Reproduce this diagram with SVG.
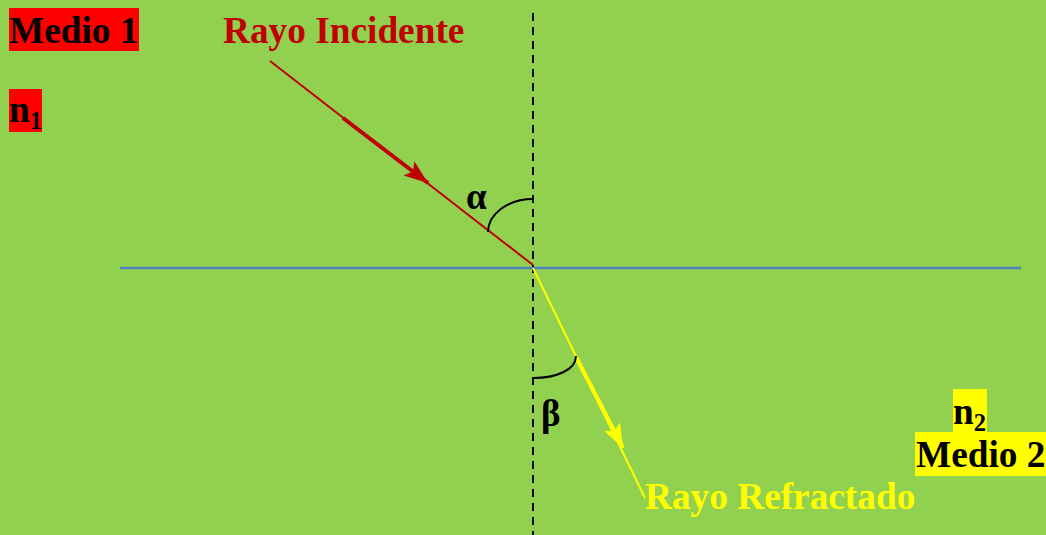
<svg xmlns="http://www.w3.org/2000/svg" width="1046" height="535" viewBox="0 0 1046 535">
<defs>
<style>
.lbl{font-family:"Liberation Serif","Times New Roman",serif;font-weight:bold;font-size:37.3px}
.sub{font-family:"Liberation Serif","Times New Roman",serif;font-weight:bold;font-size:24.5px}
.ang{font-family:"Liberation Serif","Times New Roman",serif;font-weight:bold;font-size:37px;fill:#000}
.arc{fill:none;stroke:#000;stroke-width:2}
</style>
<marker id="ahRed" markerUnits="userSpaceOnUse" markerWidth="26" markerHeight="20" viewBox="0 0 26 20" refX="24" refY="10" orient="auto">
<path d="M0,1 L24,10 L0,19 L5,10 Z" fill="#C00000"/>
</marker>
<marker id="ahYel" markerUnits="userSpaceOnUse" markerWidth="26" markerHeight="20" viewBox="0 0 26 20" refX="24" refY="10" orient="auto">
<path d="M0,1 L24,10 L0,19 L5,10 Z" fill="#FFFF00"/>
</marker>
</defs>
<rect x="0" y="0" width="1046" height="535" fill="#92D050"/>
<g id="connectors">
<line id="normal" x1="533" y1="13" x2="533" y2="535" stroke="#000" stroke-width="2" stroke-dasharray="8 6"/>
<line id="interface" x1="120" y1="268" x2="1021" y2="268" stroke="#4F81BD" stroke-width="2.5"/>
<line id="incident" x1="270" y1="61" x2="533" y2="265" stroke="#C00000" stroke-width="2"/>
<line id="incident-arrow" x1="343" y1="118" x2="428" y2="183" stroke="#C00000" stroke-width="4" marker-end="url(#ahRed)"/>
<line id="refracted" x1="533" y1="268" x2="645" y2="498" stroke="#FFFF00" stroke-width="2"/>
<line id="refracted-arrow" x1="576" y1="357" x2="623" y2="448" stroke="#FFFF00" stroke-width="4" marker-end="url(#ahYel)"/>
<path id="arc-alpha" class="arc" d="M488,232 C488,214 508,199 533,199"/>
<path id="arc-beta" class="arc" d="M533,378 C556,378 576,370 576,356"/>
</g>
<g id="medio1">
<rect x="9" y="8" width="130" height="43" fill="#FF0000"/>
<text class="lbl" x="9" y="43" fill="#000">Medio 1</text>
</g>
<g id="n1">
<rect x="9" y="89" width="33" height="43" fill="#FF0000"/>
<text x="9" y="122" fill="#000"><tspan class="lbl">n</tspan><tspan class="sub" dy="7">1</tspan></text>
</g>
<g id="rayo-incidente">
<text class="lbl" x="223" y="43" fill="#C00000">Rayo Incidente</text>
</g>
<g id="alpha">
<text class="ang" x="466" y="209">α</text>
</g>
<g id="beta">
<text class="ang" x="541" y="426">β</text>
</g>
<g id="rayo-refractado">
<text class="lbl" x="645" y="509" fill="#FFFF00">Rayo Refractado</text>
</g>
<g id="n2">
<rect x="953" y="389" width="34" height="43" fill="#FFFF00"/>
<text x="953" y="424" fill="#000"><tspan class="lbl">n</tspan><tspan class="sub" dy="7">2</tspan></text>
</g>
<g id="medio2">
<rect x="915" y="432" width="131" height="44" fill="#FFFF00"/>
<text class="lbl" x="916" y="467" fill="#000">Medio 2</text>
</g>
</svg>
